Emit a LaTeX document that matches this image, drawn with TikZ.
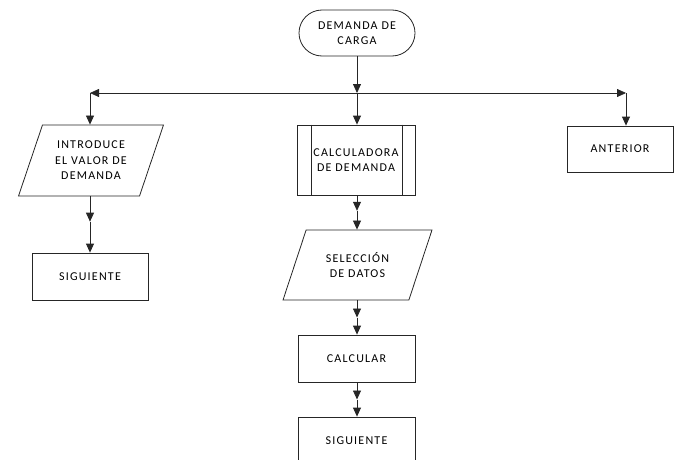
\documentclass[tikz,border=0pt]{standalone}
\usepackage{fontspec}
\setmainfont{Carlito}[LetterSpace=10]
\usetikzlibrary{shapes.geometric,arrows.meta,calc}
\begin{document}
\begin{tikzpicture}[x=1pt,y=-1pt,
  base/.style={draw=black!85,line width=0.8pt,align=center,inner sep=1pt,
    font=\fontsize{12}{15.5}\selectfont},
  term/.style={base,rectangle,rounded corners=23pt,minimum width=116pt,minimum height=46pt},
  proc/.style={base,rectangle,minimum width=117pt,minimum height=47pt},
  io/.style={base,trapezium,trapezium stretches=true,minimum height=70pt},
  subr/.style={proc,minimum height=70pt,minimum width=118pt,
    append after command={
      \pgfextra{\let\subrnode\tikzlastnode}
      ([xshift=15pt]\subrnode.north west) edge[draw=black!85,line width=0.8pt] ([xshift=15pt]\subrnode.south west)
      ([xshift=-13pt]\subrnode.north east) edge[draw=black!85,line width=0.8pt] ([xshift=-13pt]\subrnode.south east)}},
  arr/.style={draw=black!85,line width=0.8pt,-{Triangle[width=8pt,length=9pt]}}
]
\useasboundingbox (0,0) rectangle (674,460);
% nodes
\node[term] (start) at (357,33) {DEMANDA DE\\CARGA};
\node[io,minimum width=145pt,minimum height=71pt,trapezium left angle=66,trapezium right angle=114]
  (intro) at (91,160.5) {INTRODUCE\\EL VALOR DE\\DEMANDA};
\node[proc,minimum width=116pt] (sig1) at (90,276.5) {SIGUIENTE};
\node[subr] (calc) at (356,160) {CALCULADORA\\DE DEMANDA};
\node[io,minimum width=150pt,trapezium left angle=62,trapezium right angle=118]
  (sel) at (357.5,265) {SELECCIÓN\\DE DATOS};
\node[proc] (calcular) at (356.5,358.5) {CALCULAR};
\node[proc] (sig2) at (356.5,440.5) {SIGUIENTE};
\node[proc,minimum width=106pt,minimum height=46pt] (ant) at (620,149) {ANTERIOR};
% junctions
\coordinate (j) at (357,93);
\coordinate (jl) at (90,93);
\coordinate (jr) at (626,93);
\coordinate (m1) at ($(intro.south -| jl)!0.45!(jl |- sig1.north)$);
\coordinate (m2) at ($(calc.south -| j)!0.45!(j |- sel.north)$);
\coordinate (m3) at ($(sel.south -| j)!0.5!(j |- calcular.north)$);
\coordinate (m4) at ($(calcular.south -| j)!0.5!(j |- sig2.north)$);
% connectors
\draw[arr] (start.south -| j) -- (j);
\draw[arr] (j) -- (jl);
\draw[arr] (jl) -- (jl |- intro.north);
\draw[arr] (j) -- (j |- calc.north);
\draw[arr] (j) -- (jr);
\draw[arr] (jr) -- (jr |- ant.north);
\draw[arr] (intro.south -| jl) -- (m1);
\draw[arr] (m1) -- (jl |- sig1.north);
\draw[arr] (calc.south -| j) -- (m2);
\draw[arr] (m2) -- (j |- sel.north);
\draw[arr] (sel.south -| j) -- (m3);
\draw[arr] (m3) -- (j |- calcular.north);
\draw[arr] (calcular.south -| j) -- (m4);
\draw[arr] (m4) -- (j |- sig2.north);
\end{tikzpicture}
\end{document}
